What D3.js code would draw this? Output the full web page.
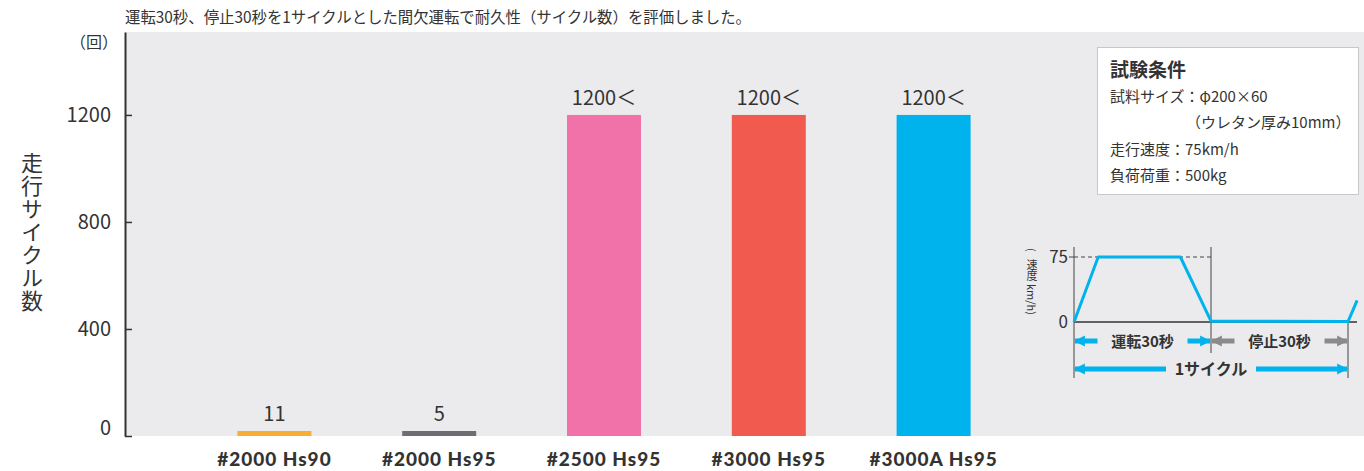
<!DOCTYPE html>
<html lang="ja">
<head>
<meta charset="utf-8">
<title>走行サイクル数</title>
<script src="https://d3js.org/d3.v7.min.js"></script>
<style>
  body { margin: 0; background: #fff; }
  text { font-family: "Noto Sans CJK JP", "Noto Sans", sans-serif; fill: #333; }
</style>
</head>
<body>
<div id="vis"></div>
<script>
// bar chart data
const categories = ["#2000 Hs90", "#2000 Hs95", "#2500 Hs95", "#3000 Hs95", "#3000A Hs95"];
const cycles = [11, 5, 1200, 1200, 1200];
const valueLabels = ["11", "5", "1200＜", "1200＜", "1200＜"];
const yTicks = [0, 400, 800, 1200];

// inset: one test cycle (seconds, km/h)
const cycleTime = [0, 5.3, 23.3, 30, 60, 62];
const cycleSpeed = [0, 75, 75, 1, 0.5, 25];
const speedTicks = [0, 75];

const conditionLines = ["試料サイズ：φ200×60", "（ウレタン厚み10mm）", "走行速度：75km/h", "負荷荷重：500kg"];

const width = 1364, height = 471;
const bg = "#ebebed";

const svg = d3.select("#vis").append("svg")
  .attr("width", width)
  .attr("height", height);

// plot background
svg.append("rect")
  .attr("x", 125).attr("y", 32)
  .attr("width", width - 125).attr("height", 436 - 32)
  .attr("fill", bg);

const x = d3.scaleBand()
  .domain(categories)
  .range([192, 1016])
  .paddingInner(0.551)
  .paddingOuter(0.2755);

const y = d3.scaleLinear()
  .domain([0, 1510])
  .range([436, 32]);

const color = d3.scaleOrdinal()
  .domain(categories)
  .range(["#f8ad33", "#6d6e71", "#f072a9", "#f15a4f", "#00b3ec"]);

// bars
const rows = categories.map((c, i) => ({ cat: c, v: cycles[i], label: valueLabels[i] }));
const barH = v => Math.max(y(0) - y(v), 5);

svg.append("g").selectAll("rect")
  .data(rows)
  .enter()
  .append("rect")
  .attr("x", d => x(d.cat))
  .attr("width", x.bandwidth())
  .attr("y", d => y(0) - barH(d.v))
  .attr("height", d => barH(d.v))
  .attr("fill", d => color(d.cat));

svg.append("g").selectAll("text")
  .data(rows)
  .enter()
  .append("text")
  .attr("x", d => x(d.cat) + x.bandwidth() / 2)
  .attr("y", d => y(0) - barH(d.v) - 10)
  .attr("text-anchor", "middle")
  .style("font-size", "20px")
  .text(d => d.label);

// y axis
const yAxis = svg.append("g")
  .attr("transform", "translate(125,0)")
  .call(d3.axisLeft(y).tickValues(yTicks).tickFormat(d3.format("d"))
    .tickSize(-7).tickSizeOuter(0).tickPadding(14));
yAxis.select(".domain").attr("stroke", "#333").attr("stroke-width", 2);
yAxis.selectAll(".tick line").attr("stroke", "#333").attr("stroke-width", 1.5);
yAxis.selectAll(".tick text")
  .style("font-size", "20px")
  .style("font-family", "'Noto Sans CJK JP', sans-serif")
  .attr("fill", "#222")
  .attr("dy", d => d === 0 ? "-0.1em" : "0.32em");

// x labels
svg.append("g").selectAll("text")
  .data(categories)
  .enter()
  .append("text")
  .attr("x", d => x(d) + x.bandwidth() / 2)
  .attr("y", 466)
  .attr("text-anchor", "middle")
  .style("font-family", "Lato, sans-serif")
  .style("font-weight", "900")
  .style("font-size", "19px")
  .style("letter-spacing", "1px")
  .text(d => d);

// titles
svg.append("text")
  .attr("x", 125).attr("y", 23)
  .style("font-size", "15.4px")
  .text("運転30秒、停止30秒を1サイクルとした間欠運転で耐久性（サイクル数）を評価しました。");

svg.append("text")
  .attr("x", 118).attr("y", 48)
  .attr("text-anchor", "end")
  .style("font-size", "16px")
  .text("（回）");

svg.append("text")
  .attr("x", 32).attr("y", 152)
  .style("writing-mode", "vertical-rl")
  .style("text-orientation", "upright")
  .style("font-size", "22px")
  .style("letter-spacing", "1px")
  .text("走行サイクル数");

// test conditions box
svg.append("rect")
  .attr("x", 1097.5).attr("y", 47.5)
  .attr("width", 261).attr("height", 147)
  .attr("fill", "#fff")
  .attr("stroke", "#c8c8c8");

svg.append("text")
  .attr("x", 1110).attr("y", 77)
  .style("font-size", "19px")
  .style("font-weight", "bold")
  .text("試験条件");

svg.append("g").selectAll("text")
  .data(conditionLines)
  .enter()
  .append("text")
  .attr("x", (d, i) => i === 1 ? 1186 : 1110)
  .attr("y", (d, i) => 102 + i * 26.4)
  .style("font-size", "15px")
  .text(d => d);

// inset cycle chart
const t = d3.scaleLinear().domain([0, 60]).range([1074, 1348]);
const s = d3.scaleLinear().domain([0, 75]).range([322, 257]);
const inset = svg.append("g");

inset.append("line")
  .attr("x1", t(0)).attr("x2", t(0)).attr("y1", 247).attr("y2", 378)
  .attr("stroke", "#444").attr("stroke-width", 1);
inset.append("line")
  .attr("x1", t(30)).attr("x2", t(30)).attr("y1", 247).attr("y2", 353)
  .attr("stroke", "#444").attr("stroke-width", 1);
inset.append("line")
  .attr("x1", t(60)).attr("x2", t(60)).attr("y1", s(0)).attr("y2", 378)
  .attr("stroke", "#444").attr("stroke-width", 1);
inset.append("line")
  .attr("x1", t(0)).attr("x2", 1357).attr("y1", s(0)).attr("y2", s(0))
  .attr("stroke", "#333").attr("stroke-width", 1.5);
inset.append("line")
  .attr("x1", t(0)).attr("x2", t(30)).attr("y1", s(75)).attr("y2", s(75))
  .attr("stroke", "#444").attr("stroke-dasharray", "4,3");
inset.append("line")
  .attr("x1", t(0) - 5).attr("x2", t(0)).attr("y1", s(75)).attr("y2", s(75))
  .attr("stroke", "#444");

inset.selectAll(".stick")
  .data(speedTicks)
  .enter()
  .append("text")
  .attr("x", 1068)
  .attr("y", d => s(d) + 6)
  .attr("text-anchor", "end")
  .style("font-size", "17px")
  .text(d => d);

// vertical unit label: (速度km/h) with upright kanji, sideways latin
const ux = 1032;
inset.append("text")
  .attr("transform", `translate(${ux},248) rotate(90)`)
  .attr("dominant-baseline", "central")
  .style("font-size", "11px")
  .text("(");
inset.append("text")
  .attr("x", ux).attr("y", 259)
  .style("writing-mode", "vertical-rl")
  .style("text-orientation", "upright")
  .style("font-size", "11px")
  .text("速度");
inset.append("text")
  .attr("transform", `translate(${ux},284) rotate(90)`)
  .attr("dominant-baseline", "central")
  .style("font-size", "11px")
  .text("km/h)");

const line = d3.line().x(d => t(d[0])).y(d => s(d[1]));
inset.append("path")
  .datum(cycleTime.map((d, i) => [d, cycleSpeed[i]]))
  .attr("d", line)
  .attr("fill", "none")
  .attr("stroke", "#00b3ec")
  .attr("stroke-width", 3)
  .attr("stroke-linejoin", "round");

// arrows
const defs = svg.append("defs");
[["blue", "#00b3ec"], ["grey", "#8a8a8a"]].forEach(([id, c]) => {
  defs.append("marker")
    .attr("id", "head-" + id)
    .attr("viewBox", "0 0 10 10")
    .attr("refX", 9).attr("refY", 5)
    .attr("markerWidth", 11).attr("markerHeight", 12)
    .attr("markerUnits", "userSpaceOnUse")
    .attr("orient", "auto-start-reverse")
    .append("path")
    .attr("d", "M0,0 L10,5 L0,10 Z")
    .attr("fill", c);
});

const arrows = [
  { a: 0, b: 30, yy: 341, c: "#00b3ec", id: "blue", label: "運転30秒", fs: 15 },
  { a: 30, b: 60, yy: 341, c: "#8a8a8a", id: "grey", label: "停止30秒", fs: 15 },
  { a: 0, b: 60, yy: 369, c: "#00b3ec", id: "blue", label: "1サイクル", fs: 16 }
];

arrows.forEach(d => {
  inset.append("line")
    .attr("x1", t(d.a) + 1).attr("x2", t(d.b) - 1)
    .attr("y1", d.yy).attr("y2", d.yy)
    .attr("stroke", d.c).attr("stroke-width", 5)
    .attr("marker-start", `url(#head-${d.id})`)
    .attr("marker-end", `url(#head-${d.id})`);
  const mid = (t(d.a) + t(d.b)) / 2;
  const w = 90;
  inset.append("rect")
    .attr("x", mid - w / 2).attr("y", d.yy - 10)
    .attr("width", w).attr("height", 20)
    .attr("fill", bg);
  inset.append("text")
    .attr("x", mid).attr("y", d.yy + 6)
    .attr("text-anchor", "middle")
    .style("font-size", d.fs + "px")
    .style("font-weight", "bold")
    .text(d.label);
});
</script>
</body>
</html>
